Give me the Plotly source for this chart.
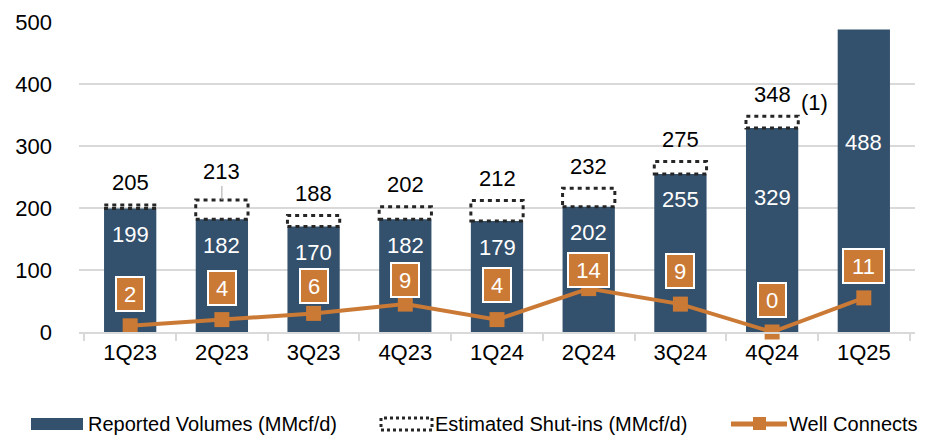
import plotly.graph_objects as go

# data
quarters = ['1Q23', '2Q23', '3Q23', '4Q23', '1Q24', '2Q24', '3Q24', '4Q24', '1Q25']
reported_volumes = [199, 182, 170, 182, 179, 202, 255, 329, 488]
total_volumes = [205, 213, 188, 202, 212, 232, 275, 348, None]  # reported + estimated shut-ins
well_connects = [2, 4, 6, 9, 4, 14, 9, 0, 11]

# label nudges (pixels)
reported_label_shift = [-26, -26, -26, -26, -26, -26, -26, -69, -113]
connect_label_shift = [32, 32, 27, 24, 35, 19, 33, 32, 32]

BLUE = '#33506C'
ORANGE = '#CB7A36'
DOT = '#262626'
FONT = 'Arial, Liberation Sans, sans-serif'
BAR_W = 0.57

fig = go.Figure()

fig.add_trace(go.Bar(x=quarters, y=reported_volumes, width=BAR_W,
                     marker=dict(color=BLUE, line=dict(width=0)),
                     showlegend=False, hoverinfo='skip'))

fig.add_trace(go.Scatter(x=quarters, y=well_connects, yaxis='y2',
                         mode='lines+markers',
                         line=dict(color=ORANGE, width=4),
                         marker=dict(symbol='square', size=15, color=ORANGE),
                         cliponaxis=False, showlegend=False, hoverinfo='skip'))

# estimated shut-ins as dotted boxes on top of the bars
for i, (r, t) in enumerate(zip(reported_volumes, total_volumes)):
    if t is None:
        continue
    fig.add_shape(type='rect', xref='x', yref='y',
                  x0=i - BAR_W / 2, x1=i + BAR_W / 2, y0=r, y1=t,
                  line=dict(color=DOT, width=3, dash='4px,4px'),
                  fillcolor='rgba(0,0,0,0)', layer='above')

annotations = []
for i, (q, r, t, c) in enumerate(zip(quarters, reported_volumes, total_volumes, well_connects)):
    # reported volume inside bar
    annotations.append(dict(x=i, y=r, xref='x', yref='y', text=str(r),
                            showarrow=False, yshift=reported_label_shift[i],
                            font=dict(family=FONT, size=22, color='white')))
    # total above box
    if t is not None:
        if q == '2Q23':
            annotations.append(dict(x=i, y=t, xref='x', yref='y', text=str(t),
                                    showarrow=True, arrowhead=0, arrowwidth=1,
                                    arrowcolor='#A6A6A6', ax=0, ay=-28,
                                    font=dict(family=FONT, size=22, color='black')))
        else:
            annotations.append(dict(x=i, y=t, xref='x', yref='y', text=str(t),
                                    showarrow=False, yshift=22,
                                    font=dict(family=FONT, size=22, color='black')))
    # well connects boxed labels
    annotations.append(dict(x=i, y=c, xref='x', yref='y2', text=str(c),
                            showarrow=False, yshift=connect_label_shift[i],
                            width=20 if c < 10 else 33, height=26,
                            bgcolor=ORANGE, bordercolor='white', borderwidth=2,
                            borderpad=3,
                            font=dict(family=FONT, size=22, color='white')))

annotations.append(dict(x=7, y=348, xref='x', yref='y', text='(1)',
                        showarrow=False, xshift=42, yshift=14,
                        font=dict(family=FONT, size=22, color='black')))

# plot area in window pixels; the page body adds an 8px offset
OFF = 8
W, H = 927, 436
L, R, T, B = 79, 915, 22, 332


def px(x):
    return (x - L) / (R - L)


def py(y):
    return (B - y) / (B - T)


# custom legend
legend_y = 424
fig.add_shape(type='rect', xref='paper', yref='paper',
              x0=px(31), x1=px(83), y0=py(430), y1=py(418),
              fillcolor=BLUE, line=dict(width=0))
fig.add_shape(type='rect', xref='paper', yref='paper',
              x0=px(381), x1=px(432), y0=py(430), y1=py(418),
              fillcolor='rgba(0,0,0,0)', line=dict(color=DOT, width=3, dash='3px,3px'))
fig.add_shape(type='line', xref='paper', yref='paper',
              x0=px(731), x1=px(787), y0=py(legend_y), y1=py(legend_y),
              line=dict(color=ORANGE, width=5))
fig.add_shape(type='rect', xref='paper', yref='paper',
              x0=px(753), x1=px(766), y0=py(430), y1=py(417),
              fillcolor=ORANGE, line=dict(width=0))

for x0, label in [(86, 'Reported Volumes (MMcf/d)'),
                  (433, 'Estimated Shut-ins (MMcf/d)'),
                  (787, 'Well Connects')]:
    annotations.append(dict(x=px(x0), y=py(legend_y), xref='paper', yref='paper',
                            xanchor='left', yanchor='middle', text=label,
                            showarrow=False,
                            font=dict(family=FONT, size=20, color='black')))

fig.update_layout(
    width=W - OFF, height=H - OFF,
    margin=dict(l=L - OFF, r=W - R, t=T - OFF, b=H - B, autoexpand=False),
    plot_bgcolor='white', paper_bgcolor='white',
    font=dict(family=FONT, size=22, color='black'),
    annotations=annotations,
    xaxis=dict(type='category', showgrid=False, showline=True, automargin=False,
               linecolor='#D9D9D9', linewidth=2,
               ticks='outside', tickson='boundaries', ticklen=7,
               tickcolor='#D9D9D9', tickwidth=2,
               tickfont=dict(family=FONT, size=22, color='black')),
    yaxis=dict(range=[0, 500], dtick=100, showgrid=True, gridcolor='#D9D9D9',
               gridwidth=1.5, zeroline=False, showline=False, automargin=False,
               ticklabelstandoff=26,
               tickfont=dict(family=FONT, size=22, color='black')),
    yaxis2=dict(range=[0, 100], overlaying='y', side='right', visible=False),
)

fig.write_html('out.html')
